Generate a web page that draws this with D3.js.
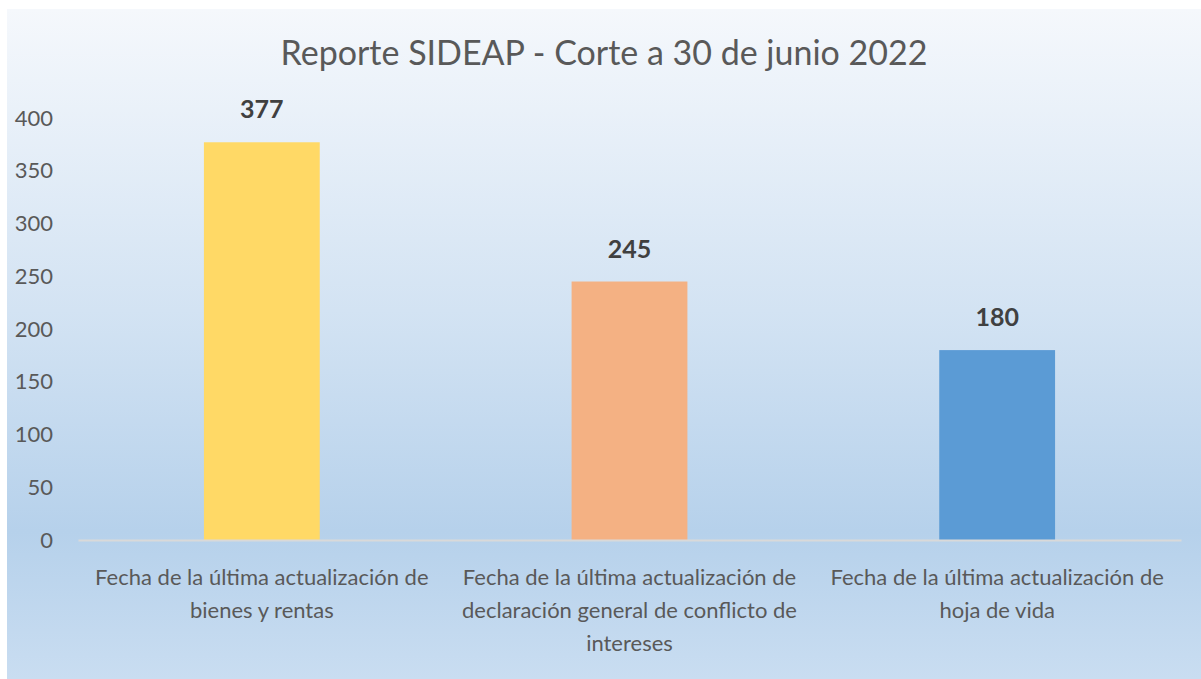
<!DOCTYPE html>
<html>
<head>
<meta charset="utf-8">
<script src="https://cdn.jsdelivr.net/npm/d3@7"></script>
<style>
  body { margin: 0; background: #ffffff; }
  svg { display: block; font-family: Lato, "Open Sans", sans-serif; }
</style>
</head>
<body>
<div id="chart"></div>
<script>
// Chart data
const categories = [
    "Fecha de la última actualización de bienes y rentas",
    "Fecha de la última actualización de declaración general de conflicto de intereses",
    "Fecha de la última actualización de hoja de vida"
];
const values = [377, 245, 180];
const barColors = ["#FFD966", "#F4B183", "#5B9BD5"];
const yTicks = [0, 50, 100, 150, 200, 250, 300, 350, 400];
const title = "Reporte SIDEAP - Corte a 30 de junio 2022";

const width = 1201, height = 679;
const margin = {top: 118, right: 20, bottom: 139, left: 78};

const svg = d3.select("#chart")
    .append("svg")
    .attr("width", width)
    .attr("height", height);

// background gradient (Office style light blue)
const grad = svg.append("defs").append("linearGradient")
    .attr("id", "bg")
    .attr("x1", 0).attr("y1", 0).attr("x2", 0).attr("y2", 1);
grad.append("stop").attr("offset", "0%").attr("stop-color", "#f5f8fc");
grad.append("stop").attr("offset", "45%").attr("stop-color", "#d3e3f3");
grad.append("stop").attr("offset", "78%").attr("stop-color", "#b6d1eb");
grad.append("stop").attr("offset", "100%").attr("stop-color", "#c9ddf1");

svg.append("rect")
    .attr("x", 7).attr("y", 9)
    .attr("width", width - 7).attr("height", height - 9)
    .attr("fill", "url(#bg)");

const x = d3.scaleBand()
    .domain(categories)
    .range([margin.left, width - margin.right])
    .paddingInner(0.685)
    .paddingOuter(0.3425);

const y = d3.scaleLinear()
    .domain([0, 400])
    .range([height - margin.bottom, margin.top]);

// title
svg.append("text")
    .attr("x", 604)
    .attr("y", 65)
    .attr("text-anchor", "middle")
    .style("font-size", "34px")
    .style("fill", "#595959")
    .text(title);

// y axis
const yAxis = svg.append("g")
    .attr("transform", `translate(53,0)`)
    .call(d3.axisLeft(y).tickValues(yTicks).tickSize(0).tickPadding(0));
yAxis.select(".domain").remove();
yAxis.selectAll("text")
    .style("font-family", "Lato, 'Open Sans', sans-serif")
    .style("font-size", "22px")
    .style("fill", "#595959");

// bars
svg.selectAll(".bar")
    .data(values)
    .enter().append("rect")
    .attr("class", "bar")
    .attr("x", (d, i) => x(categories[i]))
    .attr("y", d => y(d))
    .attr("width", x.bandwidth())
    .attr("height", d => y(0) - y(d))
    .attr("fill", (d, i) => barColors[i]);

// data labels
svg.selectAll(".label")
    .data(values)
    .enter().append("text")
    .attr("class", "label")
    .attr("x", (d, i) => x(categories[i]) + x.bandwidth() / 2)
    .attr("y", d => y(d) - 24)
    .attr("text-anchor", "middle")
    .style("font-size", "25px")
    .style("font-weight", "bold")
    .style("fill", "#404040")
    .text(d => d);

// x axis
const xAxis = svg.append("g")
    .attr("transform", `translate(0,${y(0)})`)
    .call(d3.axisBottom(x).tickSize(0).tickFormat(""));
xAxis.select(".domain")
    .attr("stroke", "#d9d9d9")
    .attr("stroke-width", 2);

// wrapped category labels
function wrap(textSel, maxWidth) {
    textSel.each(function(d) {
        const text = d3.select(this);
        const words = d.split(" ");
        const cx = +text.attr("x");
        let lines = [], line = [];
        let tspan = text.append("tspan");
        words.forEach(w => {
            line.push(w);
            tspan.text(line.join(" "));
            if (tspan.node().getComputedTextLength() > maxWidth && line.length > 1) {
                line.pop();
                lines.push(line.join(" "));
                line = [w];
            }
        });
        lines.push(line.join(" "));
        tspan.remove();
        lines.forEach((l, i) => {
            text.append("tspan")
                .attr("x", cx)
                .attr("dy", i === 0 ? 0 : 33)
                .text(l);
        });
    });
}

svg.selectAll(".cat")
    .data(categories)
    .enter().append("text")
    .attr("class", "cat")
    .attr("x", d => x(d) + x.bandwidth() / 2)
    .attr("y", 585)
    .attr("text-anchor", "middle")
    .style("font-size", "22px")
    .style("fill", "#595959")
    .call(wrap, 355);
</script>
</body>
</html>
